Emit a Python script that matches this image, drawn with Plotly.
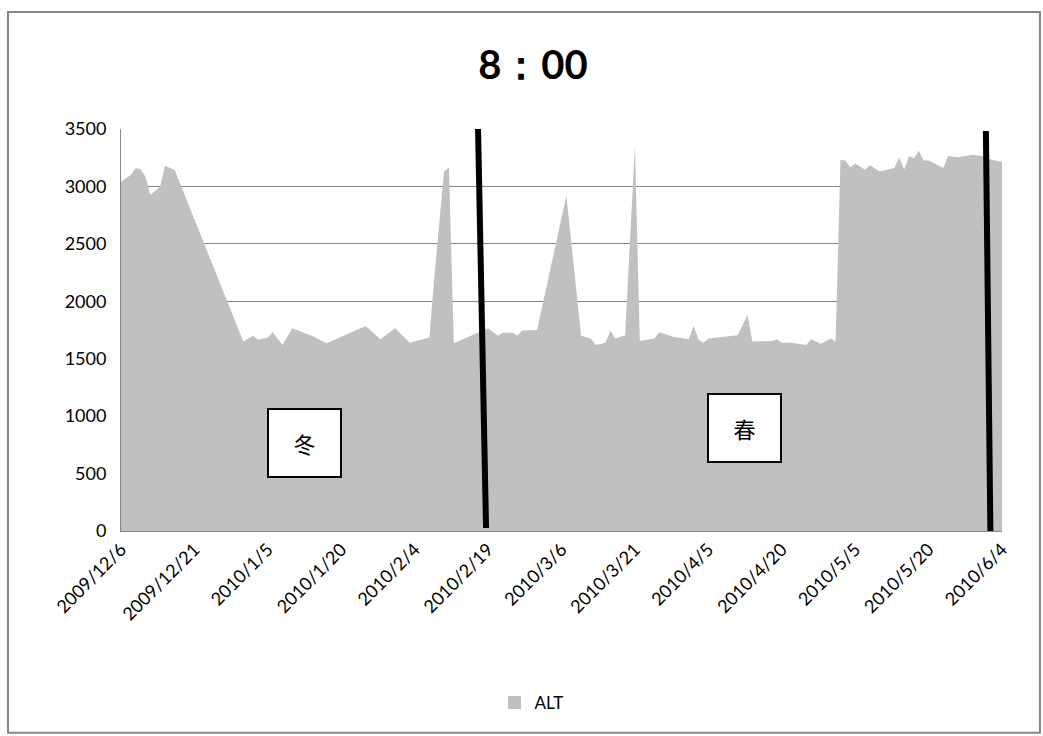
import plotly.graph_objects as go

# ALT readings at 08:00, winter 2009 to early summer 2010
dates = [
    "2009-12-06", "2009-12-08", "2009-12-09", "2009-12-10", "2009-12-11", "2009-12-12",
    "2009-12-14", "2009-12-15", "2009-12-17", "2009-12-31",
    "2010-01-02", "2010-01-03", "2010-01-05", "2010-01-06", "2010-01-08", "2010-01-10",
    "2010-01-14", "2010-01-17", "2010-01-25", "2010-01-28", "2010-01-31",
    "2010-02-03", "2010-02-07", "2010-02-08", "2010-02-10", "2010-02-11", "2010-02-12",
    "2010-02-17", "2010-02-19", "2010-02-21", "2010-02-22", "2010-02-24", "2010-02-25",
    "2010-02-26",
    "2010-03-01", "2010-03-07", "2010-03-10", "2010-03-12", "2010-03-13", "2010-03-15",
    "2010-03-16", "2010-03-17", "2010-03-19", "2010-03-21", "2010-03-22", "2010-03-25",
    "2010-03-26", "2010-03-29",
    "2010-04-01", "2010-04-02", "2010-04-03", "2010-04-04", "2010-04-05", "2010-04-11",
    "2010-04-13", "2010-04-14", "2010-04-18", "2010-04-19", "2010-04-20", "2010-04-22",
    "2010-04-25", "2010-04-26", "2010-04-28", "2010-04-30",
    "2010-05-01", "2010-05-02", "2010-05-03", "2010-05-04", "2010-05-05", "2010-05-07",
    "2010-05-08", "2010-05-10", "2010-05-13", "2010-05-14", "2010-05-15", "2010-05-16",
    "2010-05-17", "2010-05-18", "2010-05-19", "2010-05-20", "2010-05-23", "2010-05-24",
    "2010-05-26", "2010-05-29", "2010-05-31",
    "2010-06-02", "2010-06-04",
]
alt = [
    3040, 3100, 3160, 3150, 3085, 2925,
    3000, 3180, 3140, 1650,
    1700, 1665, 1685, 1730, 1620, 1765,
    1700, 1635, 1785, 1670, 1765,
    1640, 1685, 2200, 3130, 3165, 1635,
    1725, 1765, 1700, 1725, 1725, 1700,
    1745,
    1750, 2920, 1700, 1675, 1620, 1640,
    1745, 1675, 1705, 3350, 1655, 1675,
    1730, 1690,
    1670, 1785, 1665, 1640, 1675, 1705,
    1880, 1650, 1655, 1670, 1640, 1640,
    1620, 1670, 1630, 1675,
    1650, 3230, 3225, 3165, 3200, 3145,
    3185, 3130, 3160, 3255, 3145, 3265,
    3245, 3310, 3225, 3225, 3160, 3265,
    3255, 3275, 3265,
    3230, 3215,
]

# Season labels and the slanted divider lines between seasons
season_labels = ["冬", "春"]
season_label_x = ["2010-01-12 10:00", "2010-04-12 10:00"]
season_label_y = [763, 897]
divider_x0 = ["2010-02-16 22:48", "2010-05-31 17:00"]
divider_x1 = ["2010-02-18 14:00", "2010-06-01 15:00"]
divider_y0 = [3500, 3483]
divider_y1 = [26, 0]

grid_color = "#868686"
fill_color = "#C0C0C0"
base_font = "Lato, 'Open Sans', sans-serif"

fig = go.Figure()
fig.add_trace(go.Scatter(
    x=dates, y=alt, name="ALT", mode="lines", showlegend=False,
    line=dict(width=0, color=fill_color),
    fill="tozeroy", fillcolor=fill_color,
))
# Square legend key for the ALT series
fig.add_trace(go.Scatter(
    x=[None], y=[None], name="ALT", mode="markers", showlegend=True,
    marker=dict(symbol="square", size=13, color=fill_color),
))

for x0, x1, y0, y1 in zip(divider_x0, divider_x1, divider_y0, divider_y1):
    fig.add_shape(type="line", xref="x", yref="y", x0=x0, x1=x1, y0=y0, y1=y1,
                  line=dict(color="black", width=6), layer="above")

for txt, x, y in zip(season_labels, season_label_x, season_label_y):
    fig.add_annotation(
        x=x, y=y, xref="x", yref="y", text=txt, showarrow=False,
        font=dict(family="'Noto Sans CJK SC', sans-serif", size=22, color="black"),
        bgcolor="white", bordercolor="black", borderwidth=2, borderpad=0,
        width=71, height=66, align="center", valign="middle",
    )

# Outer chart border
fig.add_shape(type="rect", xref="paper", yref="paper",
              x0=-0.1283, x1=1.0431, y0=-0.502, y1=1.291,
              line=dict(color=grid_color, width=2), layer="below")

fig.update_layout(
    width=1043, height=736,
    margin=dict(l=121, r=41, t=129, b=205),
    paper_bgcolor="white", plot_bgcolor="white",
    font=dict(family=base_font, size=17, color="black"),
    title=dict(text="<b>8：00</b>", x=0.511, xanchor="center",
               y=1 - 65 / 736, yref="container", yanchor="middle",
               font=dict(family=base_font, size=40, color="black")),
    showlegend=True,
    legend=dict(orientation="h", x=0.466, xanchor="center", y=-0.428, yanchor="middle",
                font=dict(size=17), itemwidth=30),
    xaxis=dict(
        type="date", range=["2009-12-06", "2010-06-04"],
        tick0="2009-12-06", dtick=15 * 86400000, tickformat="%Y/%-m/%-d",
        tickangle=-45, showgrid=False, showline=True, linecolor=grid_color,
        linewidth=1, ticks="", tickfont=dict(size=18),
    ),
    yaxis=dict(
        range=[0, 3500], dtick=500, showgrid=True, gridcolor=grid_color, gridwidth=1,
        showline=True, linecolor=grid_color, linewidth=1, zeroline=False,
        ticks="", tickfont=dict(size=18), ticklabelstandoff=10,
    ),
)

fig.write_html("out.html")
